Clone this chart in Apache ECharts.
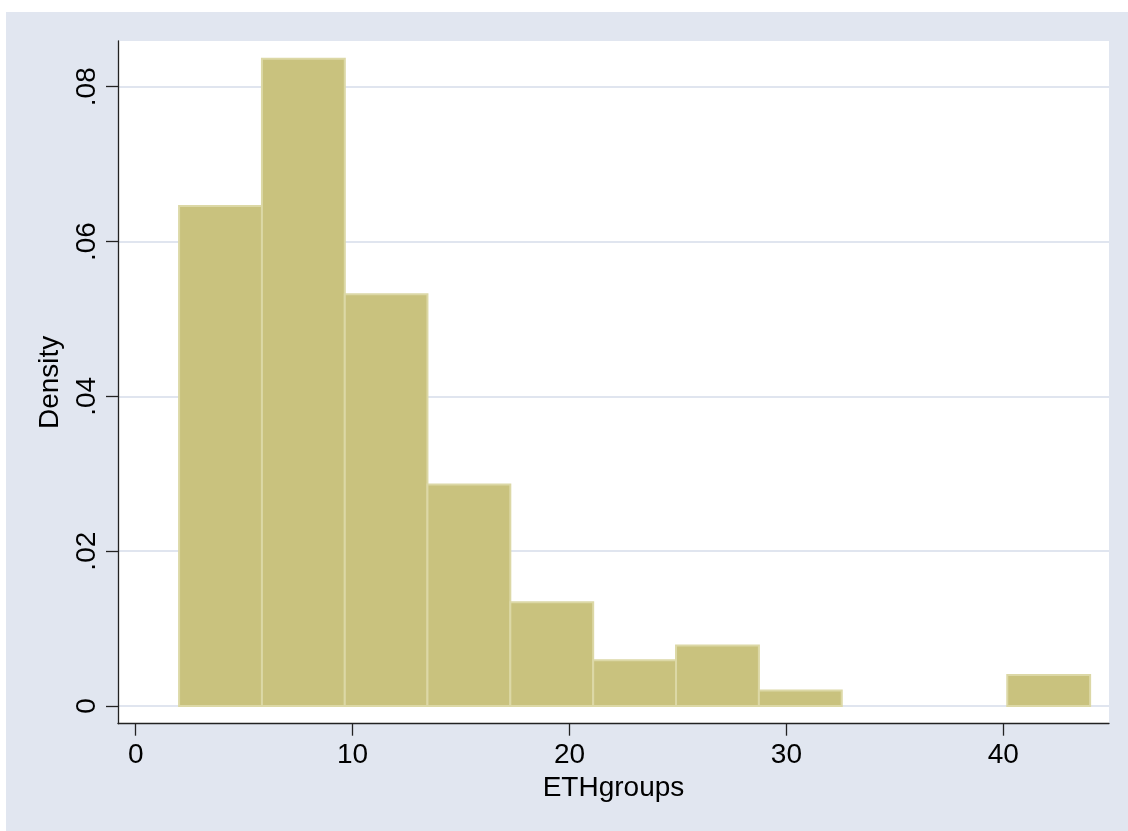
<!DOCTYPE html>
<html>
<head>
<meta charset="utf-8">
<script src="https://cdn.jsdelivr.net/npm/echarts@6/dist/echarts.min.js"></script>
<style>
  html, body { margin: 0; padding: 0; background: #ffffff; }
  #chart { position: absolute; left: 6px; top: 12px; width: 1122px; height: 819px; }
</style>
</head>
<body>
<div id="chart"></div>
<script>
// Histogram bin edges (ETHgroups) and density per bin
const binStart = [2, 5.82, 9.64, 13.45, 17.27, 21.09, 24.91, 28.73, 32.55, 36.36, 40.18];
const binEnd   = [5.82, 9.64, 13.45, 17.27, 21.09, 24.91, 28.73, 32.55, 36.36, 40.18, 44];
const density  = [0.0646, 0.0836, 0.0532, 0.0286, 0.0134, 0.0059, 0.0078, 0.0020, 0, 0, 0.0040];

const xTickVals = [0, 10, 20, 30, 40];
const yTickVals = [0, 0.02, 0.04, 0.06, 0.08];
const yTickLabels = ['0', '.02', '.04', '.06', '.08'];

const FONT = 'Liberation Sans, Arial, Helvetica, sans-serif';
const AXIS_COLOR = '#222222';
const GRID_COLOR = '#E0E5EF';
const XMIN = -0.816, XMAX = 44.87;

const data = binStart.map((s, i) => [s, binEnd[i], density[i]]);

const chart = echarts.init(document.getElementById('chart'), null, { renderer: 'canvas' });
chart.setOption({
  backgroundColor: '#E1E6F0',
  animation: false,
  grid: [
    { left: 112, right: 19, top: 29, bottom: 107.3, show: true, backgroundColor: '#ffffff', borderWidth: 0 },
    { left: 112, right: 19, top: 74.7, bottom: 125, show: false }
  ],
  xAxis: [
    {
      gridIndex: 0, type: 'value', min: XMIN, max: XMAX,
      name: 'ETHgroups', nameLocation: 'middle', nameGap: 48,
      nameTextStyle: { fontFamily: FONT, fontSize: 28, color: '#000' },
      axisLine: { show: true, onZero: false, lineStyle: { color: AXIS_COLOR, width: 1.3 } },
      axisTick: { show: true, length: 12, customValues: xTickVals, lineStyle: { color: AXIS_COLOR, width: 1.3 } },
      axisLabel: { show: true, customValues: xTickVals, margin: 18, fontFamily: FONT, fontSize: 28, color: '#000' },
      splitLine: { show: false }
    },
    {
      gridIndex: 1, type: 'value', min: XMIN, max: XMAX, show: false,
      axisLine: { show: false, onZero: false }
    }
  ],
  yAxis: [
    {
      gridIndex: 0, type: 'value', min: -0.00228, max: 0.08581,
      name: 'Density', nameLocation: 'middle', nameGap: 54,
      nameTextStyle: { fontFamily: FONT, fontSize: 28, color: '#000' },
      axisLine: { show: true, onZero: false, lineStyle: { color: AXIS_COLOR, width: 1.3 } },
      axisTick: { show: false }, axisLabel: { show: false }, splitLine: { show: false }
    },
    {
      gridIndex: 1, type: 'value', min: 0, max: 0.08, interval: 0.02,
      axisLine: { show: false, onZero: false },
      axisTick: { show: true, length: 12, lineStyle: { color: AXIS_COLOR, width: 1.3 } },
      axisLabel: {
        show: true, rotate: 90, margin: 17, fontFamily: FONT, fontSize: 28, color: '#000',
        formatter: function (v) {
          const i = yTickVals.findIndex(t => Math.abs(t - v) < 1e-9);
          return i >= 0 ? yTickLabels[i] : '';
        }
      },
      splitLine: { show: true, lineStyle: { color: GRID_COLOR, width: 2 } }
    }
  ],
  series: [
    {
      type: 'custom',
      xAxisIndex: 1, yAxisIndex: 1,
      clip: false,
      data: data,
      renderItem: function (params, api) {
        const x0 = api.value(0), x1 = api.value(1), y = api.value(2);
        if (!(y > 0)) return null;
        const p0 = api.coord([x0, y]);
        const p1 = api.coord([x1, 0]);
        return {
          type: 'rect',
          shape: { x: p0[0], y: p0[1], width: p1[0] - p0[0], height: p1[1] - p0[1] },
          style: { fill: '#C9C27E', stroke: '#DCD8A6', lineWidth: 2 }
        };
      }
    }
  ]
});
</script>
</body>
</html>
